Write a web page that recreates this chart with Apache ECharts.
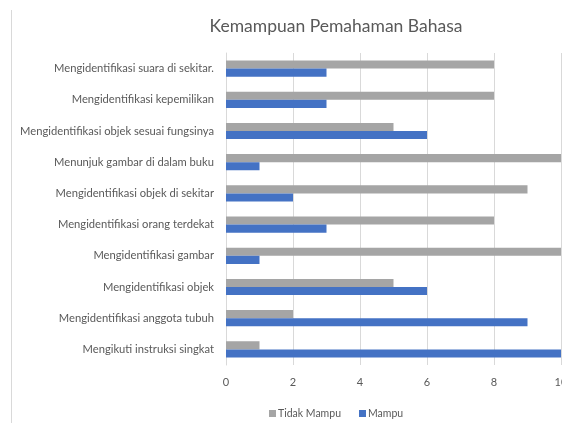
<!DOCTYPE html>
<html><head><meta charset="utf-8">
<script src="https://cdn.jsdelivr.net/npm/echarts@6/dist/echarts.min.js"></script>
<style>html,body{margin:0;padding:0;background:#fff}#c{width:562px;height:423px}</style>
</head><body><div id="c"></div>
<script>
const categories = [
  "Mengidentifikasi suara di sekitar.",
  "Mengidentifikasi kepemilikan",
  "Mengidentifikasi objek sesuai fungsinya",
  "Menunjuk gambar di dalam buku",
  "Mengidentifikasi objek di sekitar",
  "Mengidentifikasi orang terdekat",
  "Mengidentifikasi gambar",
  "Mengidentifikasi objek",
  "Mengidentifikasi anggota tubuh",
  "Mengikuti instruksi singkat"
];
const tidakMampu = [8, 8, 5, 10, 9, 8, 10, 5, 2, 1];
const mampu = [3, 3, 6, 1, 2, 3, 1, 6, 9, 10];
const titleText = "Kemampuan Pemahaman Bahasa";
const seriesNames = ["Tidak Mampu", "Mampu"];

const font = "Lato";
const chart = echarts.init(document.getElementById('c'));
chart.setOption({
  animation: false,
  title: {
    text: titleText, left: 331, top: 12, textAlign: 'center',
    textStyle: {fontFamily: font, fontSize: 17.5, fontWeight: 'normal', color: '#595959'}
  },
  legend: {
    data: seriesNames, left: 264, top: 403, itemWidth: 7, itemHeight: 7, itemGap: 18,
    textStyle: {fontFamily: font, fontSize: 10.5, color: '#595959', padding: [0, 0, 0, -3]},
    icon: 'rect'
  },
  graphic: [{type: 'line', shape: {x1: 11.5, y1: 10, x2: 11.5, y2: 423}, style: {stroke: '#D9D9D9', lineWidth: 1}}],
  grid: {left: 226, right: 1, top: 53, bottom: 58, outerBoundsMode: 'none', containLabel: false},
  xAxis: {
    type: 'value', min: 0, max: 10, interval: 2,
    axisLine: {show: false}, axisTick: {show: false},
    splitLine: {lineStyle: {color: '#D9D9D9'}},
    axisLabel: {fontFamily: font, fontSize: 11, color: '#595959', margin: 12}
  },
  yAxis: {
    type: 'category', data: categories, inverse: true,
    axisLine: {lineStyle: {color: '#D9D9D9'}}, axisTick: {show: false},
    axisLabel: {fontFamily: font, fontSize: 11.2, color: '#595959', margin: 12}
  },
  series: [
    {name: seriesNames[0], type: 'bar', data: tidakMampu, itemStyle: {color: '#A5A5A5'}, barGap: '0%', barCategoryGap: '48%'},
    {name: seriesNames[1], type: 'bar', data: mampu, itemStyle: {color: '#4472C4'}}
  ]
});
</script></body></html>
